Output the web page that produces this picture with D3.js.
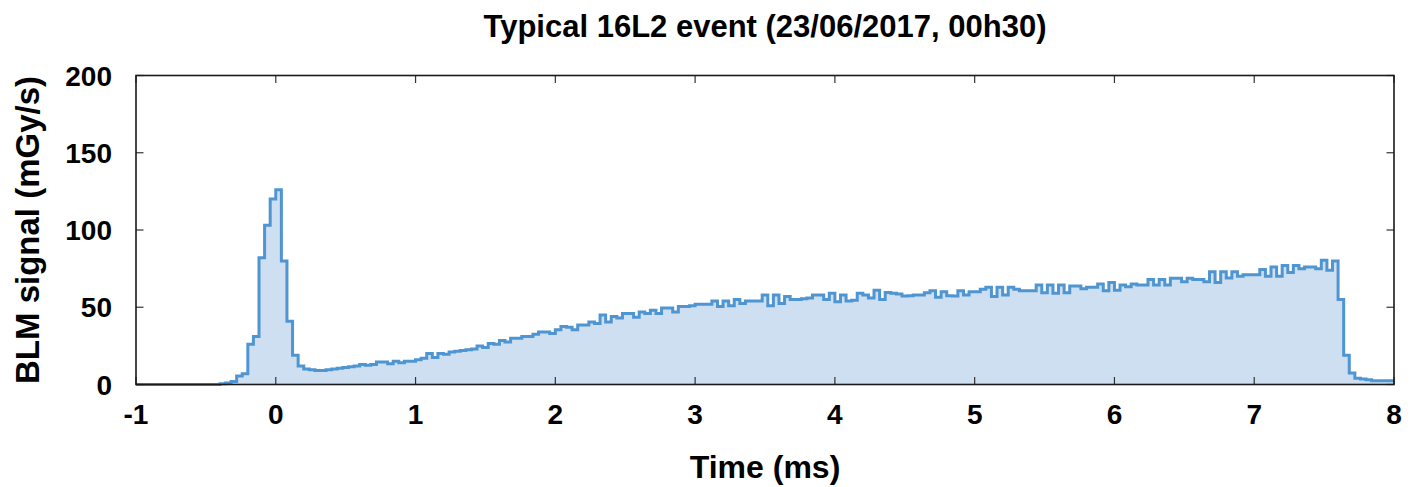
<!DOCTYPE html>
<html>
<head>
<meta charset="utf-8">
<script src="https://cdn.jsdelivr.net/npm/d3@7"></script>
<style>
  html, body {
    margin: 0;
    padding: 0;
    background: #fff;
  }

  svg text {
    font-family: 'Liberation Sans', Arial, Helvetica, sans-serif;
    font-weight: 700;
    fill: #000;
  }

  .frame {
    fill: none;
    stroke: #1a1a1a;
    stroke-width: 1.6;
  }

  .tick-mark {
    stroke: #333;
    stroke-width: 1.2;
  }

  .signal-area {
    fill: #cddff0;
    stroke: none;
  }

  .signal-line {
    fill: none;
    stroke: #4f95d2;
    stroke-width: 3;
    stroke-linejoin: miter;
  }
</style>
</head>
<body>
<svg id="chart" width="1412" height="487"></svg>
<script>
//

const width = 1412
const height = 487
const margin = {top: 75.5, right: 18, bottom: 102.5, left: 136}
const tickLength = 7.5

const title = 'Typical 16L2 event (23/06/2017, 00h30)'
const xLabel = 'Time (ms)'
const yLabel = 'BLM signal (mGy/s)'

const xTicks = [-1, 0, 1, 2, 3, 4, 5, 6, 7, 8]
const yTicks = [0, 50, 100, 150, 200]

// BLM histogram, 40 us bins starting at -1 ms
const binStart = -1
const binWidth = 0.04

// -1.00 .. 0.16 ms
const signalSpike = [
  0, 0, 0, 0, 0, 0, 0, 0, 0, 0, 0, 0, 0, 0, 0,
  0.5, 1, 2, 5.5, 7, 26, 31, 82, 103, 120, 126, 80, 41, 19, 12
]

// 0.20 .. 3.00 ms
const signalRise = [
  10, 9.5, 9, 9, 9.5, 10, 10.5, 11, 11.5, 12,
  13, 12.5, 13, 14.5, 14.5, 13.5, 15, 14, 15, 15,
  16, 17, 20, 17.5, 20, 19.5, 21, 21.5, 22, 22.5,
  23, 25, 24, 26.5, 26,
  28.5, 27.5, 30, 30, 31, 31, 32.5, 34, 34, 33,
  35.5, 37.5, 37, 35.5, 38.5, 38.5, 40.5, 39.5, 45, 40.5,
  44, 43, 46, 46, 43.5, 47, 46, 48, 46, 49.5,
  49.5, 47, 50.5, 50.5, 51, 52
]

// 3.04 .. 5.72 ms
const signalPlateau = [
  52, 52, 54, 50.5, 54, 51, 55, 52.5, 54, 54,
  54, 58, 51, 58, 52.5, 57, 55, 55, 55.5, 56,
  58, 58, 55, 59, 53.5, 58, 54, 54.5, 59, 58,
  56, 61, 55, 59.5, 59, 58.5,
  57.3, 57.5, 58, 58, 59.4, 60.7, 56.5, 60, 57.5, 57.3,
  60.7, 58, 60, 60, 61.6, 63, 57, 63, 58, 63,
  61.6, 60.7, 60.7, 60.7, 64.4, 59.4, 64.4, 59, 64.4, 59.4,
  63.7, 63.7
]

// 5.76 .. 7.96 ms
const signalTail = [
  62, 63, 63, 65, 60.7, 66, 61, 64.4, 63.3, 65,
  64.4, 64.4, 68, 64.4, 68, 64.4, 68.8, 68.8, 66.5, 68.8,
  68, 68, 66.5, 73, 66, 73, 69, 73, 70, 71,
  71, 71, 74.5, 70,
  76, 70, 77, 72.5, 77, 75, 76, 76, 75, 80.5,
  74, 80, 55, 19, 7.5, 4, 3.5, 3, 2.5, 2.4,
  2.4, 2.4
]

//

const signal = [].concat(signalSpike, signalRise, signalPlateau, signalTail)
const bins = signal.map((v, i) => ({t: binStart + i * binWidth, v}))
// close the last bin on its right edge
bins.push({t: binStart + signal.length * binWidth, v: signal[signal.length - 1]})

const svg = d3.select('#chart')

const x = d3.scaleLinear()
  .domain([-1, 8])
  .range([margin.left, width - margin.right])

const y = d3.scaleLinear()
  .domain([0, 200])
  .range([height - margin.bottom, margin.top])

//

const area = d3.area()
  .curve(d3.curveStepAfter)
  .x((d) => x(d.t))
  .y0(y(0))
  .y1((d) => y(d.v))

const line = d3.line()
  .curve(d3.curveStepAfter)
  .x((d) => x(d.t))
  .y((d) => y(d.v))

svg.append('path')
  .datum(bins)
  .attr('class', 'signal-area')
  .attr('d', area)

svg.append('path')
  .datum(bins)
  .attr('class', 'signal-line')
  .attr('d', line)

//

const [x0, x1] = x.range()
const [y0, y1] = y.range()

const ticks = svg.append('g')

xTicks.forEach((t) => {
  ticks.append('line').attr('class', 'tick-mark')
    .attr('x1', x(t)).attr('x2', x(t))
    .attr('y1', y0).attr('y2', y0 - tickLength)
  ticks.append('line').attr('class', 'tick-mark')
    .attr('x1', x(t)).attr('x2', x(t))
    .attr('y1', y1).attr('y2', y1 + tickLength)
})

yTicks.forEach((v) => {
  ticks.append('line').attr('class', 'tick-mark')
    .attr('x1', x0).attr('x2', x0 + tickLength)
    .attr('y1', y(v)).attr('y2', y(v))
  ticks.append('line').attr('class', 'tick-mark')
    .attr('x1', x1).attr('x2', x1 - tickLength)
    .attr('y1', y(v)).attr('y2', y(v))
})

svg.append('rect')
  .attr('class', 'frame')
  .attr('x', x0)
  .attr('y', y1)
  .attr('width', x1 - x0)
  .attr('height', y0 - y1)

//

svg.append('g')
  .selectAll('text')
  .data(xTicks)
  .join('text')
    .attr('x', (d) => x(d))
    .attr('y', 424)
    .attr('text-anchor', 'middle')
    .style('font-size', '28px')
    .text((d) => d)

svg.append('g')
  .selectAll('text')
  .data(yTicks)
  .join('text')
    .attr('x', 112)
    .attr('y', (d) => y(d))
    .attr('dy', '0.36em')
    .attr('text-anchor', 'end')
    .style('font-size', '28px')
    .text((d) => d)

svg.append('text')
  .attr('x', (x0 + x1) / 2)
  .attr('y', 37)
  .attr('text-anchor', 'middle')
  .style('font-size', '31px')
  .text(title)

svg.append('text')
  .attr('x', (x0 + x1) / 2)
  .attr('y', 478)
  .attr('text-anchor', 'middle')
  .style('font-size', '32px')
  .text(xLabel)

svg.append('text')
  .attr('transform', `translate(39, ${(y0 + y1) / 2}) rotate(-90)`)
  .attr('text-anchor', 'middle')
  .style('font-size', '33px')
  .text(yLabel)
</script>
</body>
</html>
